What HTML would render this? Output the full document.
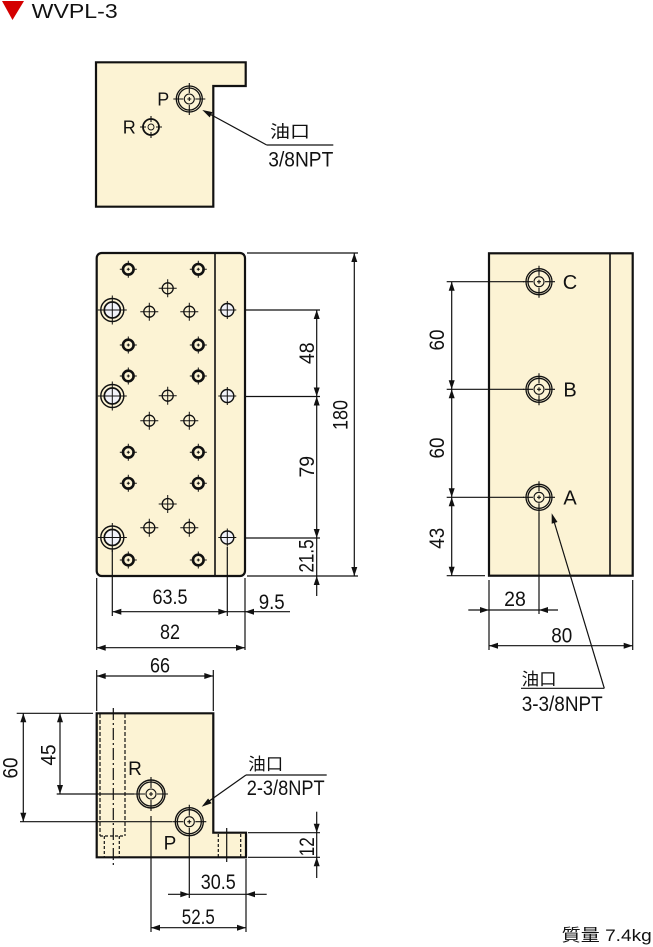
<!DOCTYPE html>
<html><head><meta charset="utf-8"><style>
html,body{margin:0;padding:0;background:#fff;}
svg{display:block;}
text{font-family:"Liberation Sans","Noto Sans CJK JP",sans-serif;fill:#111;}
.d{font-size:21px;}
.c{font-family:"Liberation Sans","Noto Sans CJK JP",sans-serif;font-size:17px;}
</style></head><body>
<svg width="653" height="947" viewBox="0 0 653 947" xmlns="http://www.w3.org/2000/svg">
<defs>
<g id="hb"><circle r="5.3" fill="none" stroke="#111" stroke-width="2.6"/><path d="M-8.5 0H-4M4 0H8.5M0 -8.5V-4M0 4V8.5M-1.5 0H1.5M0 -1.5V1.5" stroke="#111" stroke-width="1"/></g>
<g id="ht"><circle r="5.5" fill="none" stroke="#111" stroke-width="1.3"/><path d="M-9 0H9M0 -9V9" stroke="#111" stroke-width="1"/></g>
<g id="hg"><circle r="11.5" fill="none" stroke="#111" stroke-width="1.4"/><circle r="8" fill="#f2f3fa" stroke="#111" stroke-width="1.7"/><path d="M-14.5 0H14.5M0 -14.5V14.5" stroke="#111" stroke-width="1"/></g>
<g id="hs"><circle r="6.5" fill="#f2f3fa" stroke="#111" stroke-width="1.4"/><path d="M-9 0H9M0 -9V9" stroke="#111" stroke-width="1"/></g>
<g id="hp"><circle r="13" fill="none" stroke="#111" stroke-width="1.3"/><circle r="11" fill="none" stroke="#111" stroke-width="1.3"/><circle r="5" fill="none" stroke="#111" stroke-width="1.1"/><path d="M-16 0H-6M6 0H16M0 -16V-6M0 6V16M-2 0H2M0 -2V2" stroke="#111" stroke-width="1.1"/></g>
<g id="hq"><circle r="14" fill="none" stroke="#111" stroke-width="1.4"/><circle r="12" fill="none" stroke="#111" stroke-width="1.3"/><circle r="5" fill="none" stroke="#111" stroke-width="1.1"/><path d="M-17 0H-6M6 0H17M0 -17V-6M0 6V17M-2 0H2M0 -2V2" stroke="#111" stroke-width="1.1"/></g>
<g id="hr"><circle r="8" fill="none" stroke="#111" stroke-width="1.8"/><circle r="3" fill="none" stroke="#111" stroke-width="0.9"/><path d="M-11 0H-5M5 0H11M0 -11V-5M0 5V11" stroke="#111" stroke-width="1.1"/></g>
</defs>

<!-- Title -->
<polygon points="2,1 24,1 12.5,20" fill="#d40000"/>
<text x="31.7" y="18" font-size="20" textLength="86" lengthAdjust="spacingAndGlyphs">WVPL-3</text>

<g stroke="#111" fill="none">
<!-- TOP VIEW -->
<polygon points="96,62.3 245.7,62.3 245.7,86 213.3,86 213.3,206.7 96,206.7" fill="#fcf3d4" stroke-width="2.2"/>
<line x1="206" y1="112" x2="266.7" y2="145" stroke-width="1.2"/>
<line x1="266.7" y1="145" x2="333.3" y2="145" stroke-width="1.2"/>

<!-- FRONT VIEW -->
<rect x="96.7" y="253" width="148.3" height="323" rx="5" fill="#fcf3d4" stroke-width="2.2"/>
<line x1="215" y1="253" x2="215" y2="576" stroke-width="1.6"/>
<g stroke-width="1.2">
<line x1="247" y1="253" x2="358" y2="253"/>
<line x1="245" y1="310" x2="320" y2="310"/>
<line x1="245" y1="396.5" x2="320" y2="396.5"/>
<line x1="245" y1="538" x2="320" y2="538"/>
<line x1="247" y1="576" x2="358" y2="576"/>
<line x1="354.3" y1="253" x2="354.3" y2="576"/>
<line x1="316.7" y1="310" x2="316.7" y2="596"/>
<line x1="96.7" y1="578" x2="96.7" y2="650"/>
<line x1="112.3" y1="550" x2="112.3" y2="616"/>
<line x1="227.3" y1="547" x2="227.3" y2="616"/>
<line x1="245" y1="578" x2="245" y2="650"/>
<line x1="112.3" y1="611.7" x2="290" y2="611.7"/>
<line x1="96.7" y1="647.7" x2="245" y2="647.7"/>
</g>

<!-- SIDE VIEW -->
<rect x="489" y="253.3" width="143.7" height="322.4" fill="#fcf3d4" stroke-width="2.2"/>
<line x1="610" y1="253.3" x2="610" y2="575.7" stroke-width="1.6"/>
<g stroke-width="1.2">
<line x1="446.7" y1="281.7" x2="524" y2="281.7"/>
<line x1="446.7" y1="389.3" x2="524" y2="389.3"/>
<line x1="446.7" y1="497.3" x2="524" y2="497.3"/>
<line x1="446.7" y1="575.7" x2="485" y2="575.7"/>
<line x1="451.7" y1="281.7" x2="451.7" y2="575.7"/>
<line x1="489" y1="580" x2="489" y2="650"/>
<line x1="539" y1="513" x2="539" y2="614"/>
<line x1="632.7" y1="580" x2="632.7" y2="650"/>
<line x1="468.3" y1="610" x2="558" y2="610"/>
<line x1="489" y1="645.7" x2="632.7" y2="645.7"/>
<line x1="553" y1="518" x2="604.3" y2="688.3"/>
<line x1="521" y1="688.3" x2="604.3" y2="688.3"/>
</g>

<!-- BOTTOM VIEW -->
<polygon points="96.7,713.3 213.3,713.3 213.3,832.7 246,832.7 246,857.3 96.7,857.3" fill="#fcf3d4" stroke-width="2.2"/>
<g stroke-width="1.2">
<line x1="100" y1="714" x2="100" y2="836" stroke-dasharray="4 2"/>
<line x1="125" y1="714" x2="125" y2="836" stroke-dasharray="4 2"/>
<line x1="100" y1="836" x2="125" y2="836" stroke-dasharray="3 2"/>
<line x1="104.3" y1="836" x2="104.3" y2="857" stroke-dasharray="3 2"/>
<line x1="119.3" y1="836" x2="119.3" y2="857" stroke-dasharray="3 2"/>
<line x1="113.3" y1="708" x2="113.3" y2="866" stroke-dasharray="12 3 2 3"/>
<line x1="218.3" y1="834" x2="218.3" y2="857" stroke-dasharray="3 2"/>
<line x1="240.7" y1="834" x2="240.7" y2="857" stroke-dasharray="3 2"/>
<line x1="226.7" y1="828" x2="226.7" y2="862"/>
<!-- dims -->
<line x1="16.7" y1="713.3" x2="93" y2="713.3"/>
<line x1="20" y1="821.7" x2="172" y2="821.7"/>
<line x1="56.7" y1="794" x2="134" y2="794"/>
<line x1="23.3" y1="713.3" x2="23.3" y2="821.7"/>
<line x1="60" y1="713.3" x2="60" y2="794"/>
<line x1="96.7" y1="670" x2="96.7" y2="711"/>
<line x1="213.3" y1="670" x2="213.3" y2="711"/>
<line x1="96.7" y1="676" x2="213.3" y2="676"/>
<line x1="248" y1="832.7" x2="320" y2="832.7"/>
<line x1="248" y1="857.3" x2="320" y2="857.3"/>
<line x1="316.7" y1="811.7" x2="316.7" y2="878"/>
<line x1="151" y1="816" x2="151" y2="932"/>
<line x1="189.3" y1="838" x2="189.3" y2="898"/>
<line x1="246" y1="859" x2="246" y2="932"/>
<line x1="168" y1="894.3" x2="266.7" y2="894.3"/>
<line x1="151" y1="927.7" x2="246" y2="927.7"/>
<line x1="205" y1="804" x2="246" y2="775"/>
<line x1="246" y1="775" x2="326.7" y2="775"/>
</g>
</g>

<!-- holes top view -->
<use href="#hp" x="189.3" y="99"/>
<use href="#hr" x="151" y="127"/>

<!-- holes front view -->
<use href="#hb" x="128.3" y="269.3"/><use href="#hb" x="198.3" y="269.3"/>
<use href="#hb" x="128.3" y="345"/><use href="#hb" x="198.3" y="345"/>
<use href="#hb" x="128.3" y="376"/><use href="#hb" x="198.3" y="376"/>
<use href="#hb" x="128.3" y="452.3"/><use href="#hb" x="198.3" y="452.3"/>
<use href="#hb" x="128.3" y="483.3"/><use href="#hb" x="198.3" y="483.3"/>
<use href="#hb" x="128.3" y="560"/><use href="#hb" x="198.3" y="560"/>
<use href="#ht" x="167.7" y="288.3"/><use href="#ht" x="149.3" y="311.7"/><use href="#ht" x="189.3" y="311.7"/>
<use href="#ht" x="167.7" y="395.7"/><use href="#ht" x="149.3" y="420.7"/><use href="#ht" x="189.3" y="420.7"/>
<use href="#ht" x="167.7" y="504"/><use href="#ht" x="149.3" y="527.7"/><use href="#ht" x="189.3" y="527.7"/>
<use href="#hg" x="112.3" y="310"/><use href="#hg" x="112.3" y="396"/><use href="#hg" x="112.3" y="537.5"/>
<use href="#hs" x="227.3" y="310"/><use href="#hs" x="227.3" y="396"/><use href="#hs" x="227.3" y="537.5"/>

<!-- holes side view -->
<use href="#hp" x="539" y="281.7"/>
<use href="#hp" x="539" y="389.3"/>
<use href="#hp" x="539" y="497.3"/>

<!-- holes bottom view -->
<use href="#hq" x="151" y="794"/>
<use href="#hq" x="189.3" y="821.7"/>

<!-- arrowheads -->
<g fill="#111" stroke="none">
<polygon points="202.3,110 212.5,112.1 209.7,117.4"/>
<polygon points="354.3,253 351.3,262 357.3,262"/>
<polygon points="354.3,576 351.3,567 357.3,567"/>
<polygon points="316.7,310 313.7,319 319.7,319"/>
<polygon points="316.7,396.5 313.7,387.5 319.7,387.5"/>
<polygon points="316.7,396.5 313.7,405.5 319.7,405.5"/>
<polygon points="316.7,538 313.7,529 319.7,529"/>
<polygon points="316.7,576 313.7,585 319.7,585"/>
<polygon points="112.3,611.7 121.3,608.7 121.3,614.7"/>
<polygon points="227.3,611.7 218.3,608.7 218.3,614.7"/>
<polygon points="245,611.7 254,608.7 254,614.7"/>
<polygon points="96.7,647.7 105.7,644.7 105.7,650.7"/>
<polygon points="245,647.7 236,644.7 236,650.7"/>
<polygon points="451.7,281.7 448.7,290.7 454.7,290.7"/>
<polygon points="451.7,389.3 448.7,380.3 454.7,380.3"/>
<polygon points="451.7,389.3 448.7,398.3 454.7,398.3"/>
<polygon points="451.7,497.3 448.7,488.3 454.7,488.3"/>
<polygon points="451.7,497.3 448.7,506.3 454.7,506.3"/>
<polygon points="451.7,575.7 448.7,566.7 454.7,566.7"/>
<polygon points="489,610 480,607 480,613"/>
<polygon points="539,610 548,607 548,613"/>
<polygon points="489,645.7 498,642.7 498,648.7"/>
<polygon points="632.7,645.7 623.7,642.7 623.7,648.7"/>
<polygon points="551.7,513.3 557.5,522 551.7,523.8"/>
<polygon points="23.3,713.3 20.3,722.3 26.3,722.3"/>
<polygon points="23.3,821.7 20.3,812.7 26.3,812.7"/>
<polygon points="60,713.3 57,722.3 63,722.3"/>
<polygon points="60,794 57,785 63,785"/>
<polygon points="96.7,676 105.7,673 105.7,679"/>
<polygon points="213.3,676 204.3,673 204.3,679"/>
<polygon points="316.7,832.7 313.7,823.7 319.7,823.7"/>
<polygon points="316.7,857.3 313.7,866.3 319.7,866.3"/>
<polygon points="189.3,894.3 180.3,891.3 180.3,897.3"/>
<polygon points="246,894.3 255,891.3 255,897.3"/>
<polygon points="151,927.7 160,924.7 160,930.7"/>
<polygon points="246,927.7 237,924.7 237,930.7"/>
<polygon points="201.7,806.7 211.6,803.3 208.1,798.5"/>
</g>

<!-- TEXT: top view -->
<text x="163.3" y="105.5" font-size="18" text-anchor="middle">P</text>
<text x="129.3" y="133.5" font-size="18" text-anchor="middle">R</text>
<text class="c" x="270" y="137.5" textLength="40" lengthAdjust="spacingAndGlyphs">油口</text>
<text class="d" x="268.3" y="166.5" textLength="65" lengthAdjust="spacingAndGlyphs">3/8NPT</text>

<!-- front dims -->
<text class="d" transform="translate(306.7,353.3) rotate(-90)" x="0" y="7.5" text-anchor="middle" textLength="21.7" lengthAdjust="spacingAndGlyphs">48</text>
<text class="d" transform="translate(306.7,466.7) rotate(-90)" x="0" y="7.5" text-anchor="middle" textLength="21.7" lengthAdjust="spacingAndGlyphs">79</text>
<text class="d" transform="translate(340,415) rotate(-90)" x="0" y="7.5" text-anchor="middle" textLength="30" lengthAdjust="spacingAndGlyphs">180</text>
<text class="d" transform="translate(306,556) rotate(-90)" x="0" y="7.5" text-anchor="middle" textLength="33" lengthAdjust="spacingAndGlyphs">21.5</text>
<text class="d" x="170" y="604.2" text-anchor="middle" textLength="35" lengthAdjust="spacingAndGlyphs">63.5</text>
<text class="d" x="271.7" y="609.2" text-anchor="middle" textLength="26" lengthAdjust="spacingAndGlyphs">9.5</text>
<text class="d" x="170" y="639.2" text-anchor="middle" textLength="20" lengthAdjust="spacingAndGlyphs">82</text>

<!-- side view text -->
<text x="570" y="289" font-size="20" text-anchor="middle">C</text>
<text x="570" y="396.5" font-size="20" text-anchor="middle">B</text>
<text x="570" y="504.5" font-size="20" text-anchor="middle">A</text>
<text class="d" transform="translate(436.7,340) rotate(-90)" x="0" y="7.5" text-anchor="middle" textLength="21" lengthAdjust="spacingAndGlyphs">60</text>
<text class="d" transform="translate(436.7,448) rotate(-90)" x="0" y="7.5" text-anchor="middle" textLength="21" lengthAdjust="spacingAndGlyphs">60</text>
<text class="d" transform="translate(436.7,538.3) rotate(-90)" x="0" y="7.5" text-anchor="middle" textLength="21" lengthAdjust="spacingAndGlyphs">43</text>
<text class="d" x="515" y="605.8" text-anchor="middle" textLength="21.7" lengthAdjust="spacingAndGlyphs">28</text>
<text class="d" x="561.7" y="642.5" text-anchor="middle" textLength="21" lengthAdjust="spacingAndGlyphs">80</text>
<text class="c" x="521.7" y="685" textLength="35" lengthAdjust="spacingAndGlyphs">油口</text>
<text class="d" x="521.7" y="711" textLength="81" lengthAdjust="spacingAndGlyphs">3-3/8NPT</text>

<!-- bottom view text -->
<text x="135" y="775" font-size="19" text-anchor="middle">R</text>
<text x="170" y="849.5" font-size="19" text-anchor="middle">P</text>
<text class="d" transform="translate(10,768) rotate(-90)" x="0" y="7.5" text-anchor="middle" textLength="21" lengthAdjust="spacingAndGlyphs">60</text>
<text class="d" transform="translate(48,755) rotate(-90)" x="0" y="7.5" text-anchor="middle" textLength="21" lengthAdjust="spacingAndGlyphs">45</text>
<text class="d" x="160" y="672.5" text-anchor="middle" textLength="20" lengthAdjust="spacingAndGlyphs">66</text>
<text class="d" transform="translate(306.7,846.7) rotate(-90)" x="0" y="7.5" text-anchor="middle" textLength="19" lengthAdjust="spacingAndGlyphs">12</text>
<text class="d" x="218.3" y="889.2" text-anchor="middle" textLength="35" lengthAdjust="spacingAndGlyphs">30.5</text>
<text class="d" x="198.3" y="924.2" text-anchor="middle" textLength="33" lengthAdjust="spacingAndGlyphs">52.5</text>
<text class="c" x="248.3" y="770" textLength="35" lengthAdjust="spacingAndGlyphs">油口</text>
<text class="d" x="246.7" y="795" textLength="78" lengthAdjust="spacingAndGlyphs">2-3/8NPT</text>

<!-- weight -->
<text x="561.7" y="941" font-size="17" textLength="90" lengthAdjust="spacingAndGlyphs">質量 7.4kg</text>
</svg>
</body></html>
